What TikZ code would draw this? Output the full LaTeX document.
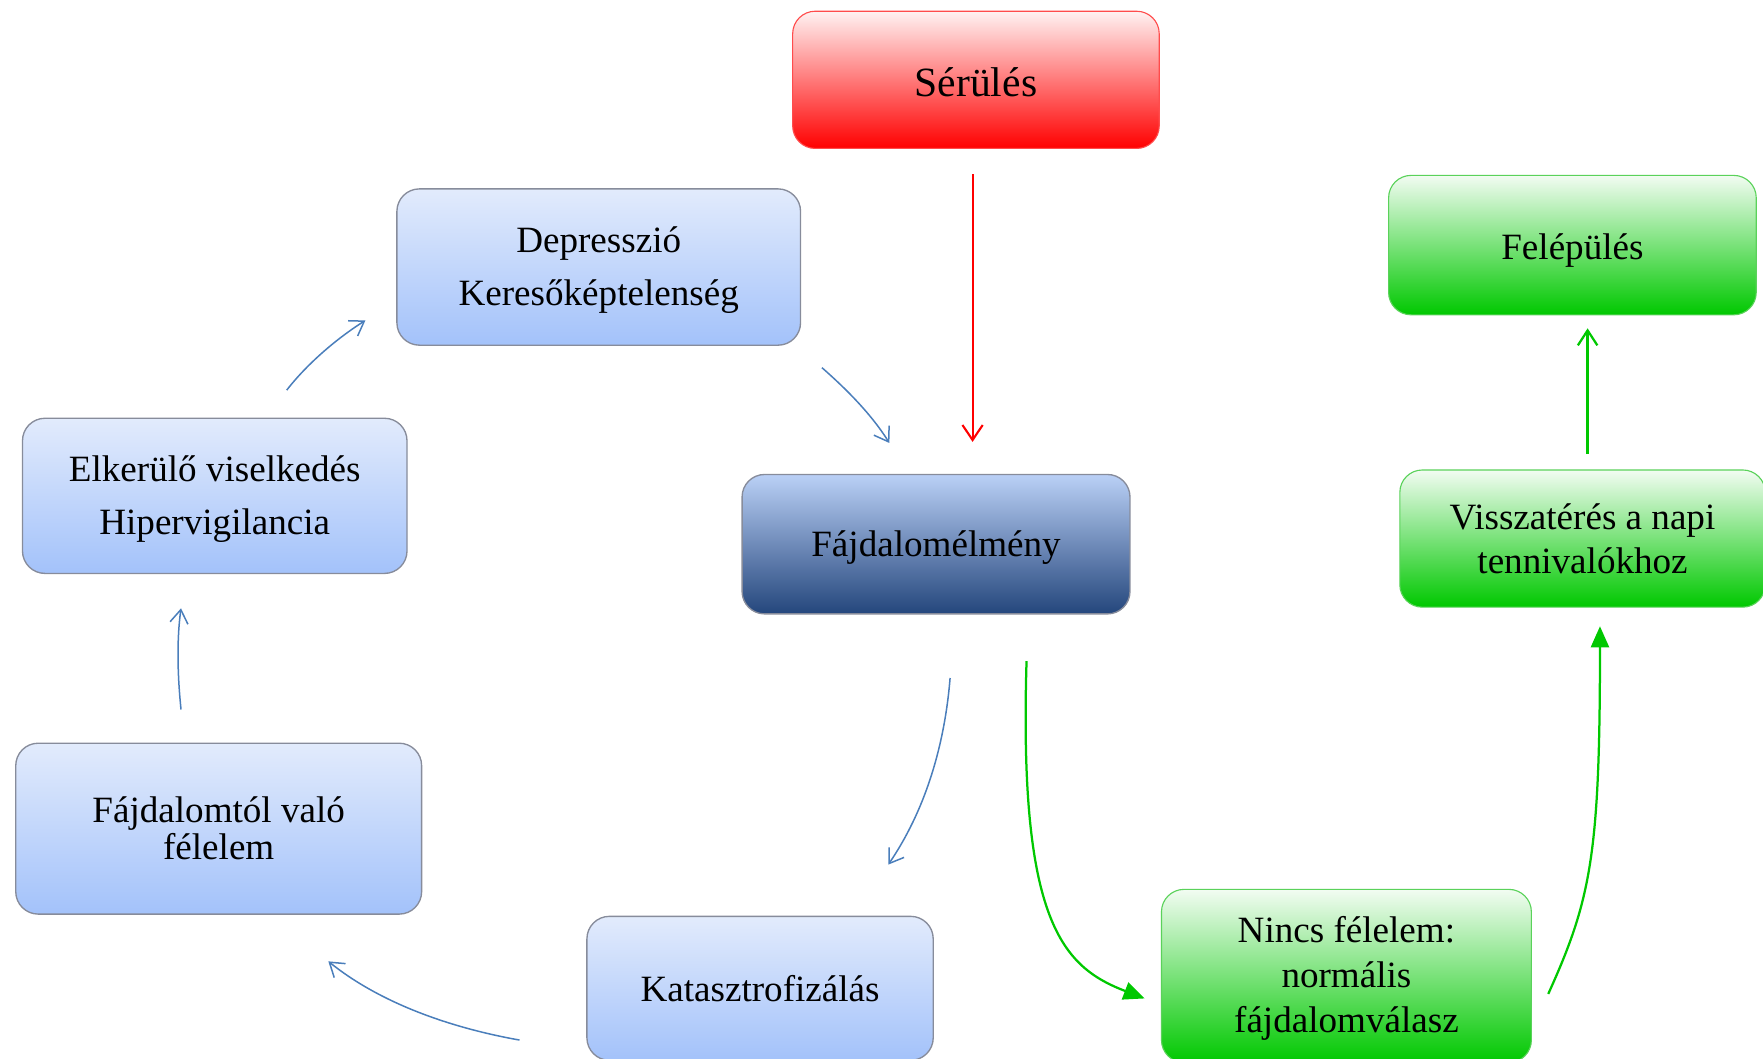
\documentclass[tikz,border=0pt]{standalone}
\usepackage{fontspec}
\setmainfont{Liberation Serif}
\usetikzlibrary{arrows.meta}

\definecolor{bluetop}{RGB}{226,235,252}
\definecolor{bluebot}{RGB}{163,194,250}
\definecolor{blueedge}{RGB}{135,140,155}
\definecolor{navytop}{RGB}{186,208,246}
\definecolor{navybot}{RGB}{36,70,124}
\definecolor{redtop}{RGB}{255,242,242}
\definecolor{redbot}{RGB}{255,0,0}
\definecolor{greentop}{RGB}{242,252,242}
\definecolor{greenbot}{RGB}{0,200,0}
\definecolor{greenedge}{RGB}{90,210,90}
\definecolor{arrowblue}{RGB}{74,126,187}

\newcommand{\firstup}[1]{\rule{0pt}{#1}}

\tikzset{every picture/.style={line width=0.75pt}}
\tikzset{
  box/.style={rounded corners=15pt, align=center, inner sep=0pt,
    font=\fontsize{24.75}{35.25}\selectfont},
  textdown/.style={execute at begin node={\rule{0pt}{#1}}},
  bluebox/.style={box, draw=blueedge, line width=0.9pt, top color=bluetop, bottom color=bluebot},
  navybox/.style={box, draw=blueedge, line width=0.9pt, top color=navytop, bottom color=navybot},
  redbox/.style={box, draw=red!70, top color=redtop, bottom color=redbot},
  greenbox/.style={box, draw=greenedge, top color=greentop, bottom color=greenbot},
  blueline/.style={draw=arrowblue, line width=1pt, -{Straight Barb[length=9pt,width=12pt]}},
  redline/.style={draw=red, line width=1.4pt, -{Straight Barb[length=10pt,width=13.5pt]}},
  greenline/.style={draw=greenbot, line width=1.5pt, -{Straight Barb[length=10pt,width=13pt]}},
  greenfill/.style={draw=greenbot, line width=1.5pt, -{Triangle[length=14pt,width=12pt]}}
}

\begin{document}
\begin{tikzpicture}[x=0.75pt,y=0.75pt,yscale=-1,xscale=1]
	\useasboundingbox (0,0) rectangle (1568,941);

	%Rounded Rect: red
	\node[redbox, textdown=22pt, minimum width=0.75*326pt, minimum height=0.75*122pt,
	  font=\fontsize{27.75}{33}\selectfont] (serules) at (868,71) {Sérülés};
	%Rounded Rect: green
	\node[greenbox, textdown=24.5pt, minimum width=0.75*327pt, minimum height=0.75*124pt] (felepules) at (1398.5,218) {Felépülés};
	%Rounded Rect: blue
	\node[bluebox, minimum width=0.75*359pt, minimum height=0.75*139pt] (depresszio) at (532.5,237.5) {\firstup{21.5pt}Depresszió\\Keresőképtelenség};
	%Rounded Rect: blue
	\node[bluebox, minimum width=0.75*342pt, minimum height=0.75*138pt] (elkerules) at (191,441) {\firstup{21.5pt}Elkerülő viselkedés\\Hipervigilancia};
	%Rounded Rect: navy
	\node[navybox, textdown=21.5pt, minimum width=0.75*345pt, minimum height=0.75*124pt] (fajdalom) at (832.5,484) {Fájdalomélmény};
	%Rounded Rect: green
	\node[greenbox, minimum width=0.75*325pt, minimum height=0.75*122pt,
	  font=\fontsize{24.75}{29.25}\selectfont] (visszateres) at (1407.5,479) {Visszatérés a napi\\tennivalókhoz};
	%Rounded Rect: blue
	\node[bluebox, minimum width=0.75*361pt, minimum height=0.75*152pt,
	  font=\fontsize{24.75}{24.75}\selectfont] (felelem) at (194.5,737) {Fájdalomtól való\\félelem};
	%Rounded Rect: blue
	\node[bluebox, minimum width=0.75*308pt, minimum height=0.75*128pt] (katasztrof) at (676,879) {Katasztrofizálás};
	%Rounded Rect: green
	\node[greenbox, minimum width=0.75*329pt, minimum height=0.75*154pt,
	  font=\fontsize{24.75}{30}\selectfont] (nincsfel) at (1197.5,868) {\firstup{20.5pt}Nincs félelem:\\normális\\fájdalomválasz};

	% arrow ends
	\coordinate (serules-out) at (865,155);
	\coordinate (fajdalom-in) at (865,393);
	\coordinate (depresszio-out) at (731,327);
	\coordinate (fajdalom-in2) at (791,394);
	\coordinate (elkerules-out) at (255,347);
	\coordinate (depresszio-in) at (325,285);
	\coordinate (felelem-out) at (161,631);
	\coordinate (elkerules-in) at (161,541);
	\coordinate (katasztrof-out) at (462,925);
	\coordinate (felelem-in) at (292,855);
	\coordinate (fajdalom-out) at (845,603);
	\coordinate (katasztrof-in) at (790,769);
	\coordinate (fajdalom-out2) at (913,588);
	\coordinate (nincsfel-in) at (1018,888);
	\coordinate (nincsfel-out) at (1377,884);
	\coordinate (visszateres-in) at (1423,557);
	\coordinate (visszateres-out) at (1412,404);
	\coordinate (felepules-in) at (1412,292);

	%Straight Lines
	\draw[redline] (serules-out) -- (fajdalom-in);
	%Curve Lines
	\draw[blueline] (depresszio-out) .. controls (755,348) and (776,370) .. (fajdalom-in2);
	\draw[blueline] (elkerules-out) .. controls (272,325) and (298,302) .. (depresszio-in);
	\draw[blueline] (felelem-out) .. controls (158,602) and (157,570) .. (elkerules-in);
	\draw[blueline] (katasztrof-out) .. controls (400,914) and (338,892) .. (felelem-in);
	\draw[blueline] (fajdalom-out) .. controls (840,665) and (822,722) .. (katasztrof-in);
	\draw[greenfill] (fajdalom-out2) .. controls (906,820) and (945,860) .. (nincsfel-in);
	\draw[greenfill] (nincsfel-out) .. controls (1415,800) and (1423,760) .. (visszateres-in);
	%Straight Lines
	\draw[greenline] (visszateres-out) -- (felepules-in);

\end{tikzpicture}
\end{document}
